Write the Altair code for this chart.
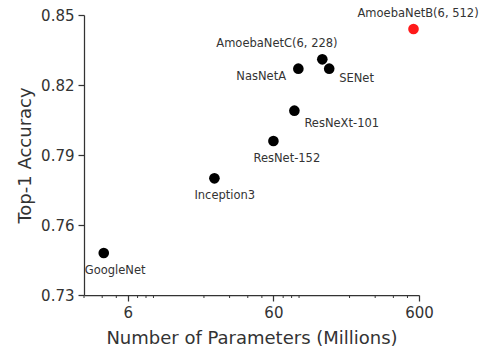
import altair as alt
import pandas as pd

# ---- data ----
models = ["GoogleNet", "Inception3", "ResNet-152", "ResNeXt-101", "NasNetA",
          "SENet", "AmoebaNetC(6, 228)", "AmoebaNetB(6, 512)"]
params = [4.1, 23.6, 60, 83.6, 89, 145, 130, 550]
accuracy = [0.748, 0.780, 0.796, 0.809, 0.827, 0.827, 0.831, 0.844]
group = ["other"] * 7 + ["ours"]

x_major = [6, 60, 600]
x_minor = [3, 4, 5, 7, 8, 9, 20, 30, 40, 50, 70, 80, 90, 200, 300, 400, 500]
y_ticks = [0.73, 0.76, 0.79, 0.82, 0.85]

df = pd.DataFrame({"model": models, "params": params, "acc": accuracy, "group": group})
minor_df = pd.DataFrame({"v": x_minor})

# ---- style ----
W, H = 335, 280
AX = "#333333"
FONT = "DejaVu Sans"

# label offsets (dx to left edge, dy to baseline) per model
offsets = {
    "GoogleNet": (-19, 21),
    "Inception3": (-20, 21),
    "ResNet-152": (-20, 21),
    "ResNeXt-101": (10, 16),
    "NasNetA": (-62, 11),
    "SENet": (10, 13),
    "AmoebaNetC(6, 228)": (-106, -12),
    "AmoebaNetB(6, 512)": (-56, -12),
}

x_scale = alt.Scale(type="log", domain=[3, 600], nice=False)
y_scale = alt.Scale(domain=[0.73, 0.85], nice=False, zero=False)

base = alt.Chart(df)

points = base.mark_circle(size=113, opacity=1).encode(
    x=alt.X("params:Q", scale=x_scale,
            axis=alt.Axis(values=x_major, format="d", labelFlush=False,
                          title="Number of Parameters (Millions)",
                          titleY=34, titleBaseline="top")),
    y=alt.Y("acc:Q", scale=y_scale,
            axis=alt.Axis(values=y_ticks, format=".2f", title="Top-1 Accuracy",
                          labelFlush=False, titleX=-68, titleBaseline="top")),
    color=alt.Color("group:N", scale=alt.Scale(domain=["other", "ours"],
                                                range=["#000000", "#ff1a1a"]),
                    legend=None),
)

minor = alt.Chart(minor_df).mark_rule(color=AX, strokeWidth=1).encode(
    x=alt.X("v:Q", scale=x_scale),
    y=alt.value(H),
    y2=alt.value(H + 3),
)

labels = []
for m in models:
    dx, dy = offsets[m]
    labels.append(
        base.transform_filter(alt.datum.model == m).mark_text(
            align="left", baseline="alphabetic", dx=dx, dy=dy,
            fontSize=11.5, font=FONT, color=AX,
        ).encode(x=alt.X("params:Q", scale=x_scale),
                 y=alt.Y("acc:Q", scale=y_scale),
                 text="model:N")
    )

chart = alt.layer(minor, points, *labels).properties(
    width=W, height=H,
    padding={"left": 84, "top": 15, "right": 68, "bottom": 57},
    autosize=alt.AutoSizeParams(type="none"),
).configure_view(stroke=None).configure_axis(
    grid=False,
    domainColor=AX, domainWidth=1.25,
    tickColor=AX, tickWidth=1.25, tickSize=6,
    labelFont=FONT, labelFontSize=15, labelColor=AX, labelPadding=4,
    titleFont=FONT, titleFontSize=18, titleFontWeight="normal", titleColor=AX,
)

chart.save("out.html", embed_options={"renderer": "svg", "actions": False})
